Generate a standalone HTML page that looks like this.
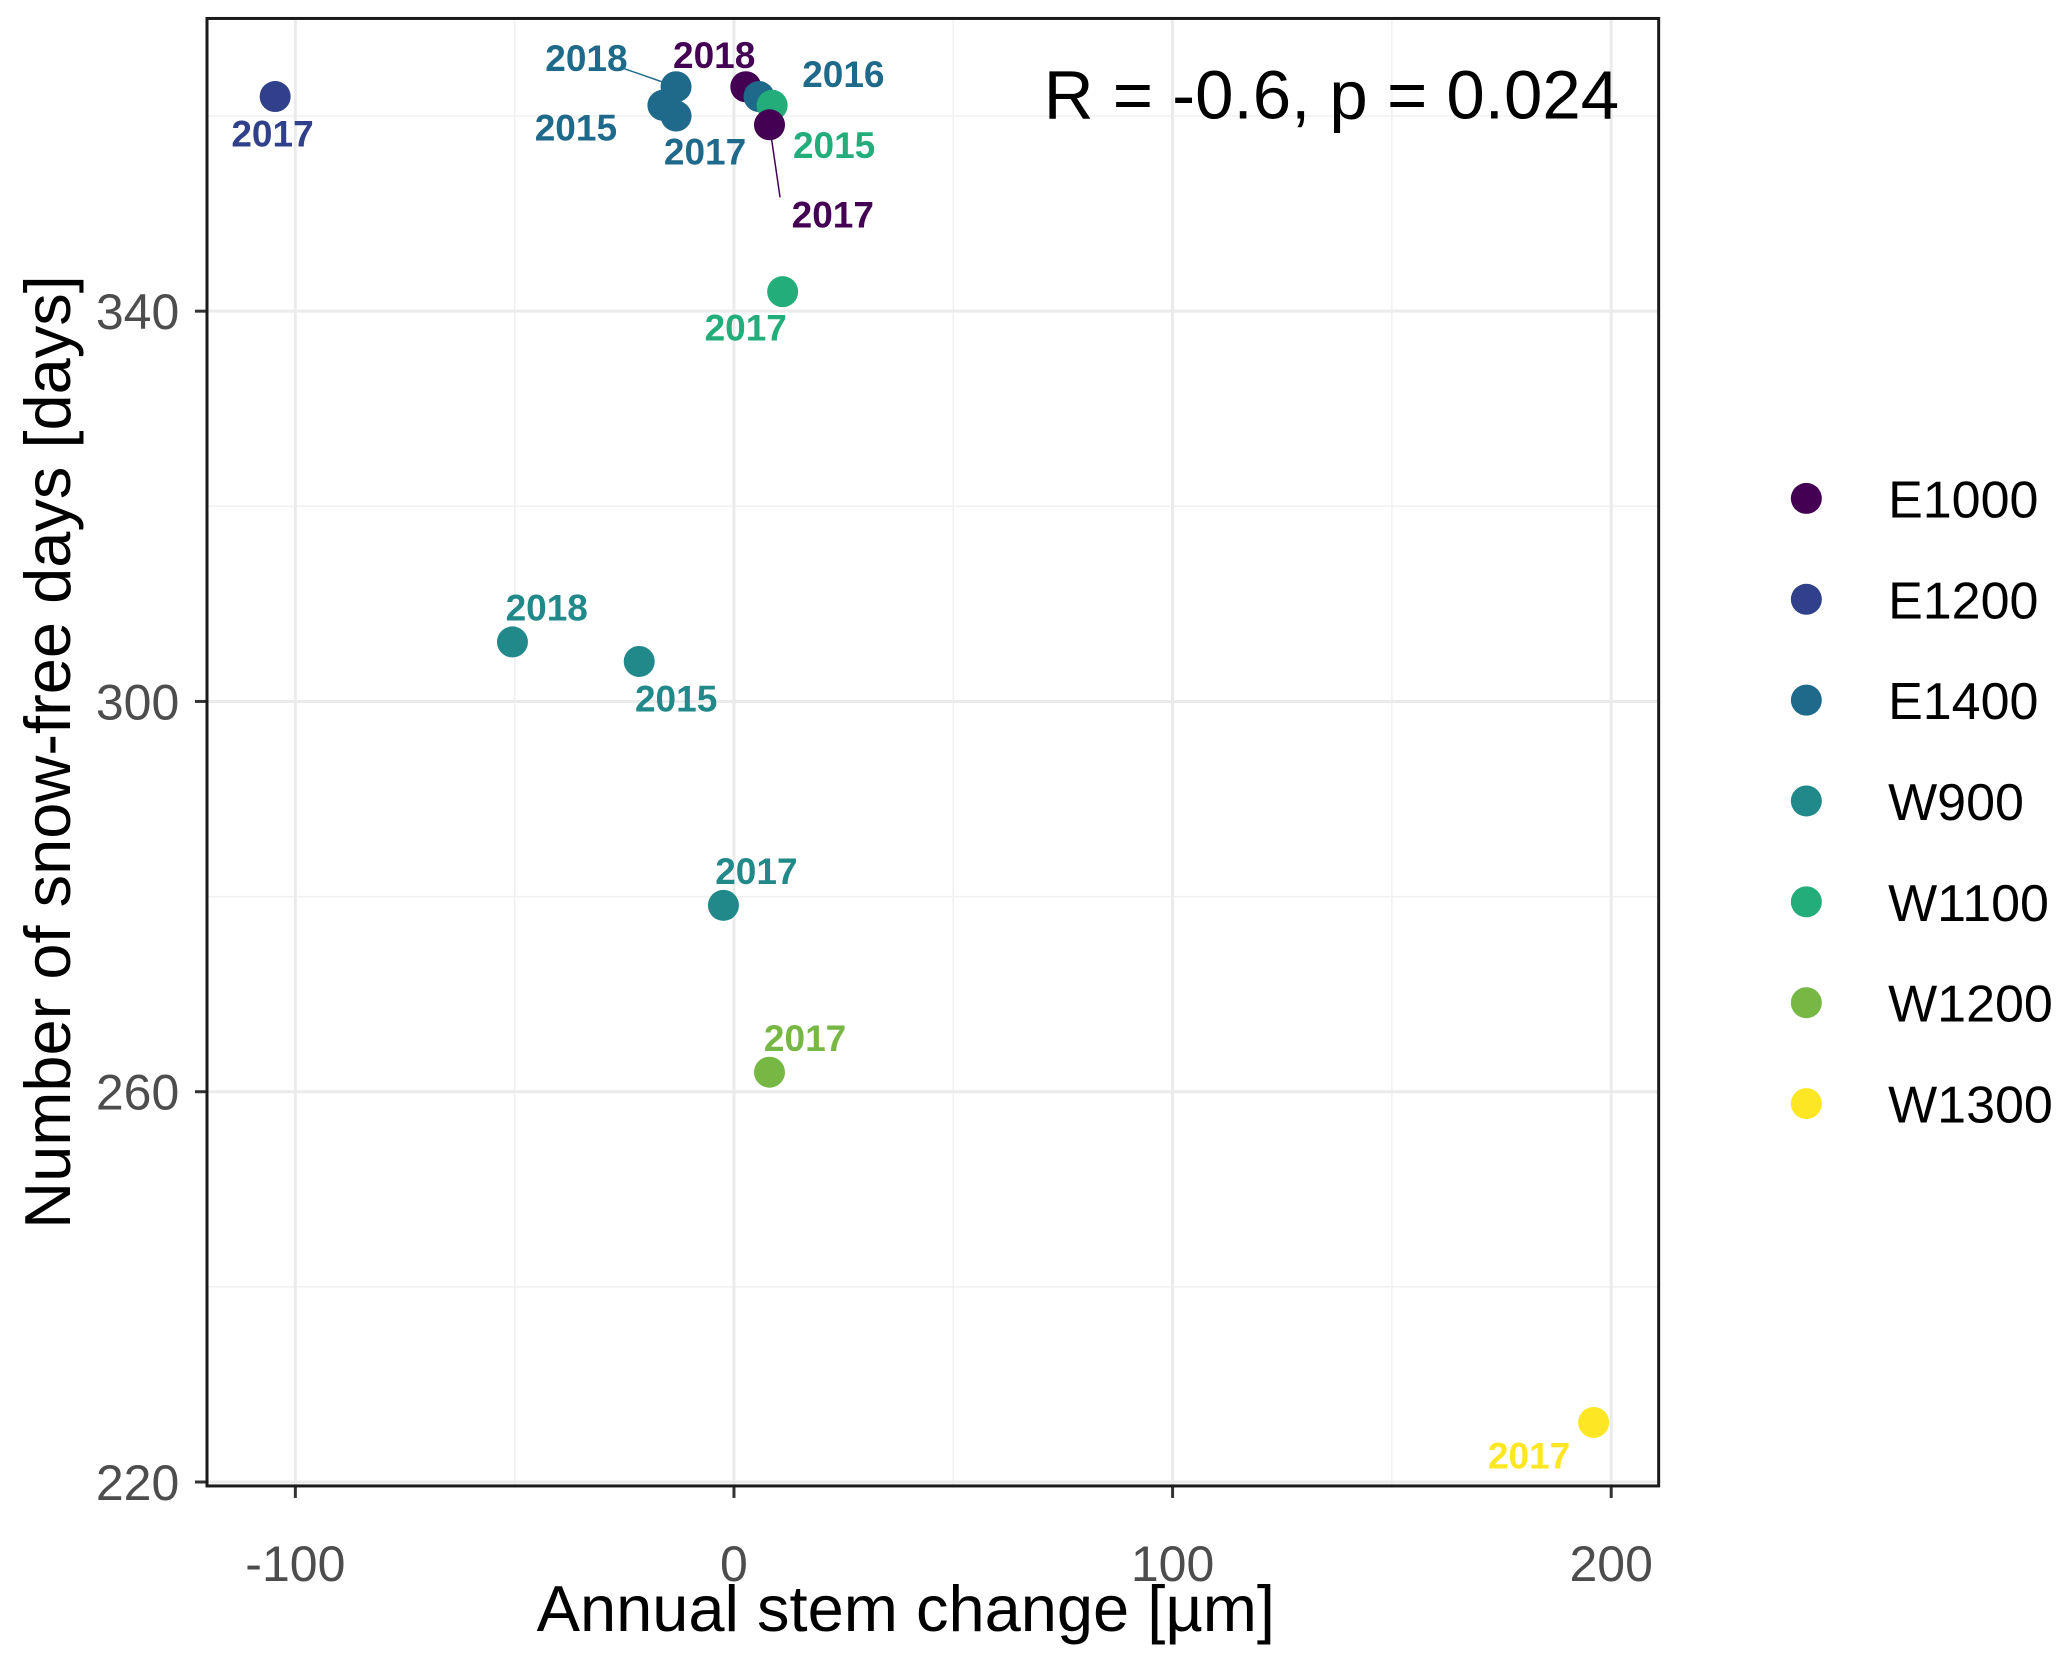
<!DOCTYPE html>
<html><head><meta charset="utf-8"><style>
html,body{margin:0;padding:0;background:#fff}
svg{display:block;font-family:"Liberation Sans",Arial,sans-serif}
</style></head><body>
<svg id="chart" width="2067" height="1661" viewBox="0 0 2067 1661" xmlns="http://www.w3.org/2000/svg">
<g id="grid"></g><g id="pts"></g><g id="lbls"></g><g id="axes"></g><g id="legend"></g>
</svg>
<script>
const sites=["E1200","E1400","E1400","E1400","E1000","E1400","W1100","E1000","W1100","W900","W900","W900","W1200","W1300"];
const years=["2017","2018","2015","2017","2018","2016","2015","2017","2017","2018","2015","2017","2017","2017"];
const xVals=[-104.6,-13.2,-16.2,-13.2,2.7,5.7,8.7,8.1,11.1,-50.5,-21.6,-2.4,8.1,196];
const yVals=[362.0,363.0,361.1,360.0,363.0,362.0,361.1,359.1,342.0,306.1,304.1,279.1,262.0,226.1];
const xTicks=[-100,0,100,200];
const yTicks=[220,260,300,340];
const xMinor=[-50,50,150];
const yMinor=[240,280,320,360];
const legendSites=["E1000","E1200","E1400","W900","W1100","W1200","W1300"];
const palette={E1000:"#440154",E1200:"#31408a",E1400:"#1f6a8b",W900:"#21898a",W1100:"#22ad7a",W1200:"#76b843",W1300:"#fde725"};
// label offsets (display px) relative to point
const offX=[-2,-68,-66,22,-24,64,47,48,-28,26,28,25,27,-49];
const offY=[28,-22,17,27,-24,-17,30,68,27,-26,28,-26,-26,25];
const leader=[false,true,false,false,false,false,false,true,false,false,false,false,false,false];

const S=1.3185;
const L=157*S,R=1258*S,T=14*S,B=1127*S;
const xs=v=>224*S+(v+100)*(1222-224)*S/300;
const ys=v=>236*S+(340-v)*(1124-236)*S/120;
const NS="http://www.w3.org/2000/svg";
function mk(tag,attrs,parent,text){const e=document.createElementNS(NS,tag);for(const k in attrs)e.setAttribute(k,attrs[k]);if(text!==undefined)e.textContent=text;parent.appendChild(e);return e;}
const grid=document.getElementById('grid'),pts=document.getElementById('pts'),lbls=document.getElementById('lbls'),axes=document.getElementById('axes'),leg=document.getElementById('legend');
mk('rect',{x:L,y:T,width:R-L,height:B-T,fill:'#fff'},grid);
xMinor.forEach(v=>{const e=mk('line',{x1:xs(v),x2:xs(v),y1:T,y2:B,stroke:'#f0f0f0','stroke-width':1.5},grid);

});
yMinor.forEach(v=>{const e=mk('line',{x1:L,x2:R,y1:ys(v),y2:ys(v),stroke:'#f0f0f0','stroke-width':1.5},grid);

});
xTicks.forEach(v=>{const e=mk('line',{x1:xs(v),x2:xs(v),y1:T,y2:B,stroke:'#ebebeb','stroke-width':3},grid);


const t=mk('line',{x1:xs(v),x2:xs(v),y1:B,y2:B+12,stroke:'#333','stroke-width':3},axes);


const l=mk('text',{x:xs(v),y:1199*S,'text-anchor':'middle','font-size':50,fill:'#4d4d4d'},axes,v<0?'-'+Math.abs(v):String(v));

});
yTicks.forEach(v=>{const e=mk('line',{x1:L,x2:R,y1:ys(v),y2:ys(v),stroke:'#ebebeb','stroke-width':3},grid);


const t=mk('line',{x1:L-12,x2:L,y1:ys(v),y2:ys(v),stroke:'#333','stroke-width':3},axes);


const l=mk('text',{x:136*S,y:ys(v)+18,'text-anchor':'end','font-size':50,fill:'#4d4d4d'},axes,String(v));

});
const fr=mk('rect',{x:L,y:T,width:R-L,height:B-T,fill:'none',stroke:'#1a1a1a','stroke-width':3},axes);


const xt=mk('text',{x:687*S,y:1237*S,'text-anchor':'middle','font-size':65,fill:'#000'},axes,'Annual stem change [µm]');


const yt=mk('text',{x:0,y:0,'text-anchor':'middle','font-size':65,fill:'#000',transform:'translate(70,752) rotate(-90)'},axes,'Number of snow-free days [days]');


const an=mk('text',{x:1228*S,y:90*S,'text-anchor':'end','font-size':69,fill:'#000'},axes,'R = -0.6, p = 0.024');



xVals.forEach((xv,i)=>{const cx=xs(xv),cy=ys(yVals[i]),col=palette[sites[i]];
const lx=cx+offX[i]*S,ly=cy+offY[i]*S;
if(leader[i]){const ln=mk('line',{x1:cx,y1:cy,x2:cx+(offX[i]>0?8:-40)*S,y2:cy+(offY[i]>0?55:-14)*S,stroke:col,'stroke-width':1.5},lbls);

}
const c=mk('circle',{cx:cx,cy:cy,r:15.5,fill:col},pts);


const t=mk('text',{x:lx,y:ly+13,'text-anchor':'middle','font-size':37,'font-weight':'bold',fill:col},lbls,years[i]);

});

legendSites.forEach((s,i)=>{const y=(378+i*76.5)*S;
const c=mk('circle',{cx:1370*S,cy:y,r:15.5,fill:palette[s]},leg);


const t=mk('text',{x:1432*S,y:y+19,'font-size':52,fill:'#000'},leg,s);

});
</script>
</body></html>
